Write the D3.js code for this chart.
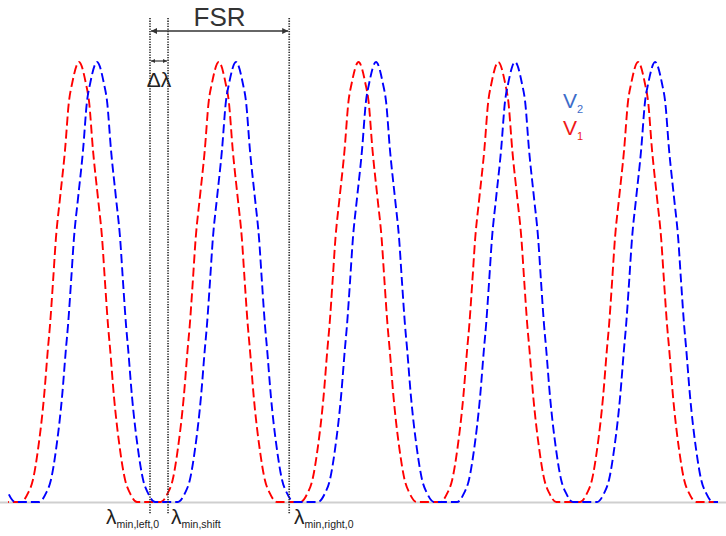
<!DOCTYPE html>
<meta charset="utf-8">
<html>
<head>
<meta charset="utf-8">
<title>FSR shift</title>
</head>
<style>
  body { margin: 0; background: #fff; }
  svg text { font-family: "Liberation Sans", Arial, sans-serif; }
  .marker { stroke: #333; stroke-width: 1.7; stroke-dasharray: 1.3,1.3; }
  .trace { fill: none; stroke-width: 1.9; stroke-dasharray: 9,4; }
</style>
<body>
<svg width="726" height="536"></svg>
<script src="https://d3js.org/d3.v7.min.js"></script>
<script>

// x is measured in FSR units, red peak #0 sits at 0
// one lobe of the comb (offset from peak -> relative level), read off the first red peak
var lobeOffset = [0, 0.05, 0.072, 0.1, 0.136, 0.165, 0.186, 0.208, 0.222, 0.25, 0.293, 0.33, 0.365, 0.415];
var lobeLevel  = [1, 0.95, 0.91, 0.8, 0.69, 0.6, 0.5, 0.4, 0.35, 0.24, 0.12, 0.05, 0.02, 0];

// peak positions (first and last are the partly visible lobes at the edges)
var redPeaks  = [-1, 0, 1, 2, 3, 4, 5];
var bluePeaks = [-0.871, 0.129, 1.123, 2.125, 3.12, 4.122, 5.122];

// dotted guide lines: lambda_min,left,0 / lambda_min,shift / lambda_min,right,0
var markers = [0.508, 0.637, 1.504];
var markerLabels = ["min,left,0", "min,shift", "min,right,0"];

var legendNames = [["V", "2"], ["V", "1"]];
var legendColors = ["#3d6cc9", "#f01818"];

var svg = d3.select("svg"),
    width = +svg.attr("width"),
    height = +svg.attr("height");

var x = d3.scaleLinear().domain([-0.508, 4.572]).range([8, 718]);
var y = d3.scaleLinear().domain([0, 1]).range([502, 62]);

function comb(peaks) {
  var pts = [];
  peaks.forEach(function(p) {
    for (var i = lobeOffset.length - 1; i > 0; i--) pts.push([p - lobeOffset[i], lobeLevel[i]]);
    pts.push([p, lobeLevel[0]]);
    for (var j = 1; j < lobeOffset.length; j++) pts.push([p + lobeOffset[j], lobeLevel[j]]);
  });
  return pts;
}

var line = d3.line()
    .x(function(d) { return x(d[0]); })
    .y(function(d) { return y(d[1]); })
    .curve(d3.curveMonotoneX);

svg.append("defs").append("clipPath").attr("id", "plot")
  .append("rect")
    .attr("x", x.range()[0]).attr("y", 0)
    .attr("width", x.range()[1] - x.range()[0]).attr("height", height);

// arrow heads
var defs = svg.select("defs");
defs.append("marker")
    .attr("id", "head").attr("viewBox", "0 0 10 10")
    .attr("refX", 10).attr("refY", 5)
    .attr("markerWidth", 8).attr("markerHeight", 6)
    .attr("markerUnits", "userSpaceOnUse")
    .attr("orient", "auto-start-reverse")
  .append("path").attr("d", "M0,0L10,5L0,10z").attr("fill", "#333");
defs.append("marker")
    .attr("id", "headSmall").attr("viewBox", "0 0 10 10")
    .attr("refX", 10).attr("refY", 5)
    .attr("markerWidth", 5).attr("markerHeight", 4)
    .attr("markerUnits", "userSpaceOnUse")
    .attr("orient", "auto-start-reverse")
  .append("path").attr("d", "M0,0L10,5L0,10z").attr("fill", "#333");

// baseline
svg.append("line")
    .attr("x1", 0).attr("x2", width)
    .attr("y1", y(0) + 0.5).attr("y2", y(0) + 0.5)
    .attr("stroke", "#cfcfcf").attr("stroke-width", 1.8);

var traces = svg.append("g").attr("clip-path", "url(#plot)");
traces.append("path").attr("class", "trace")
    .attr("stroke", "#ff0000")
    .attr("d", line(comb(redPeaks)));
traces.append("path").attr("class", "trace")
    .attr("stroke", "#0000ff")
    .attr("d", line(comb(bluePeaks)));

// dotted guides
svg.append("g").selectAll("line")
  .data(markers)
  .enter().append("line")
    .attr("class", "marker")
    .attr("x1", function(d) { return x(d); })
    .attr("x2", function(d) { return x(d); })
    .attr("y1", 18).attr("y2", 514);

// FSR arrow
svg.append("line")
    .attr("x1", x(markers[0]) + 1).attr("x2", x(markers[2]) - 1)
    .attr("y1", 31).attr("y2", 31)
    .attr("stroke", "#333").attr("stroke-width", 1.6)
    .attr("marker-start", "url(#head)").attr("marker-end", "url(#head)");
svg.append("text")
    .attr("x", (x(markers[0]) + x(markers[2])) / 2).attr("y", 26)
    .attr("text-anchor", "middle")
    .attr("font-size", 26).attr("fill", "#333")
    .text("FSR");

// delta lambda arrow
svg.append("line")
    .attr("x1", x(markers[0]) + 1).attr("x2", x(markers[1]) - 1)
    .attr("y1", 61).attr("y2", 61)
    .attr("stroke", "#333").attr("stroke-width", 1.2)
    .attr("marker-start", "url(#headSmall)").attr("marker-end", "url(#headSmall)");
svg.append("text")
    .attr("x", (x(markers[0]) + x(markers[1])) / 2).attr("y", 87)
    .attr("text-anchor", "middle")
    .attr("font-size", 21).attr("fill", "#222")
    .text("\u0394\u03bb");

// lambda labels under the guides
var labX = [106, 171, 294];
var lab = svg.append("g").selectAll("text")
  .data(markerLabels)
  .enter().append("text")
    .attr("x", function(d, i) { return labX[i]; })
    .attr("y", 524)
    .attr("fill", "#222")
    .attr("font-size", 21);
lab.append("tspan").text("\u03bb");
lab.append("tspan")
    .attr("font-size", 10.5).attr("dy", 4)
    .text(function(d) { return d; });

// legend
var leg = svg.append("g").selectAll("text")
  .data(legendNames)
  .enter().append("text")
    .attr("x", 563)
    .attr("y", function(d, i) { return 108 + i * 27; })
    .attr("fill", function(d, i) { return legendColors[i]; })
    .attr("font-size", 21);
leg.append("tspan").text(function(d) { return d[0]; });
leg.append("tspan")
    .attr("font-size", 11).attr("dy", 5)
    .text(function(d) { return d[1]; });

</script>
</html>
